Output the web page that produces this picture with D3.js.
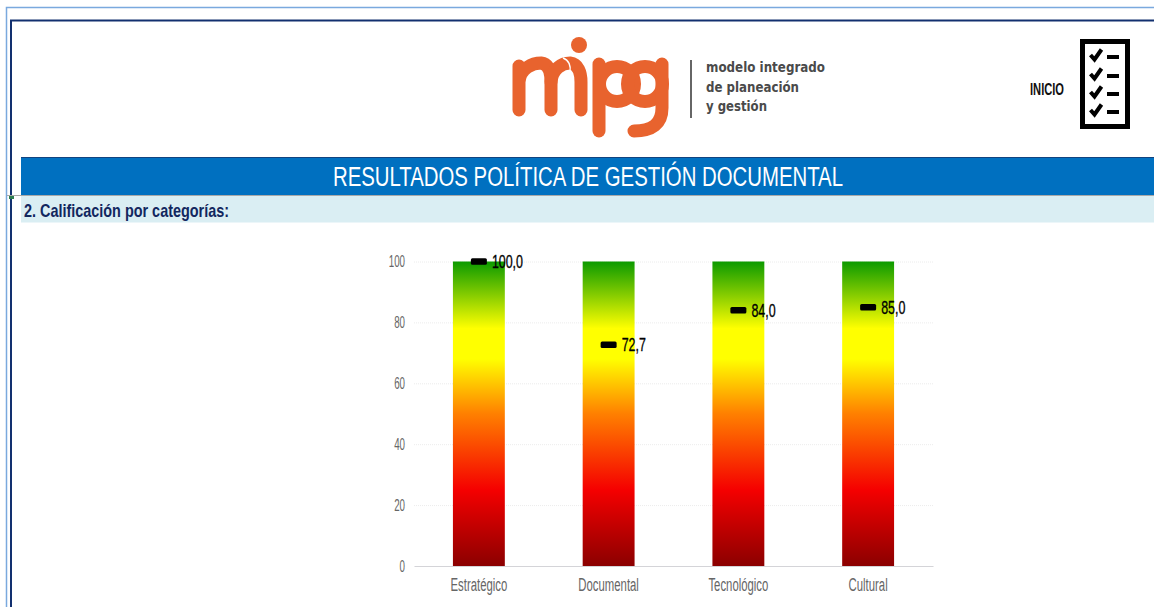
<!DOCTYPE html>
<html>
<head>
<meta charset="utf-8">
<script src="https://cdn.jsdelivr.net/npm/d3@7/dist/d3.min.js"></script>
<style>
html, body { margin: 0; padding: 0; background: #fff; overflow: hidden; }
svg { display: block; }
text { font-family: "Liberation Sans", sans-serif; }
</style>
</head>
<body>
<div id="chart"></div>
<script>
const categories = ["Estratégico", "Documental", "Tecnológico", "Cultural"];
const barValues = [100, 100, 100, 100];
const scores = [100.0, 72.7, 84.0, 85.0];
const yTicks = [0, 20, 40, 60, 80, 100];
const logoLines = ["modelo integrado", "de planeación", "y gestión"];

const width = 1154, height = 607;
const margin = {left: 414, right: 221, top: 261.5, bottom: 41};

// the original text is squeezed horizontally
function condense(sel, k) {
	sel.each(function() {
		d3.select(this)
			.attr("textLength", this.getComputedTextLength() * k)
			.attr("lengthAdjust", "spacingAndGlyphs");
	});
}

const svg = d3.select("#chart").append("svg")
	.attr("width", width)
	.attr("height", height);

// page frames
svg.append("path").attr("d", "M6.5,607V7.5H1154").attr("fill", "none").attr("stroke", "#7aa9de").attr("stroke-width", 1.5);
svg.append("path").attr("d", "M11,607V20.5H1154").attr("fill", "none").attr("stroke", "#12306f").attr("stroke-width", 2);

// header bands
svg.append("rect").attr("x", 21).attr("y", 157).attr("width", 1133).attr("height", 38).attr("fill", "#0070c0");
svg.append("rect").attr("x", 21).attr("y", 157).attr("width", 1133).attr("height", 1).attr("fill", "#12437f");
svg.append("rect").attr("x", 21).attr("y", 196).attr("width", 1133).attr("height", 26.5).attr("fill", "#daeef3");
svg.append("line").attr("x1", 7).attr("x2", 1154).attr("y1", 195.5).attr("y2", 195.5).attr("stroke", "#a9a9a9");
svg.append("rect").attr("x", 9).attr("y", 196).attr("width", 5).attr("height", 3).attr("fill", "#2e7d4f");

svg.append("text").attr("x", 588).attr("y", 186).attr("text-anchor", "middle")
	.attr("fill", "#fff").attr("font-size", 27)
	.attr("textLength", 510).attr("lengthAdjust", "spacingAndGlyphs")
	.text("RESULTADOS POLÍTICA DE GESTIÓN DOCUMENTAL");

svg.append("text").attr("x", 24).attr("y", 217).attr("fill", "#12275f")
	.attr("font-size", 19).attr("font-weight", "bold")
	.attr("textLength", 205).attr("lengthAdjust", "spacingAndGlyphs")
	.text("2. Calificación por categorías:");

// logo
const logo = svg.append("g").attr("fill", "none").attr("stroke", "#e8632e")
	.attr("stroke-width", 13).attr("stroke-linecap", "round");
logo.append("path").attr("d", "M519,110V66M519,82C520,68 533,63 541,63C549,64 551,72 551,82V110");
logo.append("path").attr("d", "M551,82C552,69 562,63 570,63C578,64 581,72 581,82V110");
logo.append("circle").attr("cx", 579).attr("cy", 45).attr("r", 8).attr("fill", "#e8632e").attr("stroke", "none");
logo.append("path").attr("d", "M599,131V64");
logo.append("circle").attr("cx", 617).attr("cy", 84).attr("r", 17.5);
logo.append("circle").attr("cx", 645).attr("cy", 84).attr("r", 17.5);
logo.append("path").attr("d", "M662,64V108C662,124 652,131 634,131");
logo.append("path").attr("d", "M563,58C569,60 571,66 570,72").attr("stroke", "#fff").attr("stroke-width", 1.5).attr("stroke-linecap", "butt");
svg.append("line").attr("x1", 691).attr("x2", 691).attr("y1", 60).attr("y2", 118).attr("stroke", "#333").attr("stroke-width", 1.5);
svg.selectAll(".logo-line").data(logoLines).join("text")
	.attr("class", "logo-line")
	.attr("x", 706)
	.attr("y", (d, i) => 72 + i * 19.5)
	.attr("fill", "#4a4a4a")
	.attr("font-size", 14)
	.attr("font-weight", "bold")
	.style("font-family", "'DejaVu Sans', sans-serif")
	.attr("textLength", (d, i) => [119, 93, 61][i])
	.attr("lengthAdjust", "spacingAndGlyphs")
	.text(d => d);

// INICIO button with checklist icon
svg.append("text").attr("x", 1030).attr("y", 95).attr("fill", "#111").attr("font-size", 16).attr("font-weight", "bold")
	.attr("textLength", 34).attr("lengthAdjust", "spacingAndGlyphs").text("INICIO");
const icon = svg.append("g");
icon.append("rect").attr("x", 1082.5).attr("y", 41.5).attr("width", 45).attr("height", 85)
	.attr("fill", "#fff").attr("stroke", "#000").attr("stroke-width", 5);
[55, 74, 92, 110].forEach(cy => {
	icon.append("path").attr("d", `M1090.5,${cy}l4,4.5l7,-10`).attr("fill", "none").attr("stroke", "#000").attr("stroke-width", 4);
	icon.append("line").attr("x1", 1107).attr("x2", 1119).attr("y1", cy + 2).attr("y2", cy + 2).attr("stroke", "#000").attr("stroke-width", 4);
});

// chart
const xScale = d3.scaleBand()
	.domain(categories)
	.range([margin.left, width - margin.right])
	.paddingInner(0.6)
	.paddingOuter(0.3);

const yScale = d3.scaleLinear()
	.domain([0, 100])
	.range([height - margin.bottom, margin.top]);

const grad = svg.append("defs").append("linearGradient")
	.attr("id", "barGrad")
	.attr("gradientUnits", "userSpaceOnUse")
	.attr("x1", 0).attr("x2", 0)
	.attr("y1", yScale(0)).attr("y2", yScale(100));
grad.selectAll("stop")
	.data([["0%", "#8b0000"], ["25%", "#f50000"], ["50%", "#ff8000"], ["68%", "#ffff00"], ["78%", "#ffff00"], ["100%", "#0c9a00"]])
	.join("stop")
	.attr("offset", d => d[0])
	.attr("stop-color", d => d[1]);

// y axis and gridlines
const yAxis = svg.append("g")
	.attr("transform", `translate(${margin.left},0)`)
	.call(d3.axisLeft(yScale).tickValues(yTicks).tickSize(0).tickPadding(9));
yAxis.select(".domain").remove();
yAxis.selectAll("text").attr("fill", "#666").attr("font-size", 16).call(condense, 0.61);
yAxis.selectAll(".tick").filter(d => d !== 0).append("line")
	.attr("x2", width - margin.right - margin.left)
	.attr("stroke", "#ececec")
	.attr("stroke-dasharray", "1,1");

// bars
svg.selectAll(".bar").data(categories).join("rect")
	.attr("class", "bar")
	.attr("x", d => xScale(d))
	.attr("y", (d, i) => yScale(barValues[i]))
	.attr("width", xScale.bandwidth())
	.attr("height", (d, i) => yScale(0) - yScale(barValues[i]))
	.attr("fill", "url(#barGrad)");

// x axis
const xAxis = svg.append("g")
	.attr("transform", `translate(0,${yScale(0)})`)
	.call(d3.axisBottom(xScale).tickSize(0).tickPadding(12));
xAxis.select(".domain").attr("stroke", "#d4d4d8").attr("stroke-width", 1.2);
xAxis.selectAll("text").attr("fill", "#666").attr("font-size", 18).call(condense, 0.63);

// score markers and labels
svg.selectAll(".marker").data(scores).join("rect")
	.attr("class", "marker")
	.attr("x", (d, i) => xScale(categories[i]) + xScale.bandwidth() / 2 - 8)
	.attr("y", d => yScale(d) - 3.2)
	.attr("width", 16)
	.attr("height", 6.5)
	.attr("rx", 1.5)
	.attr("fill", "#000");

svg.selectAll(".score").data(scores).join("text")
	.attr("class", "score")
	.attr("x", (d, i) => xScale(categories[i]) + xScale.bandwidth() / 2 + 13)
	.attr("y", d => yScale(d) + 6.5)
	.attr("fill", "#000")
	.attr("stroke", "#000")
	.attr("stroke-width", 0.3)
	.attr("font-size", 18)
	.text(d => d3.format(".1f")(d).replace(".", ","))
	.call(condense, 0.69);
</script>
</body>
</html>
